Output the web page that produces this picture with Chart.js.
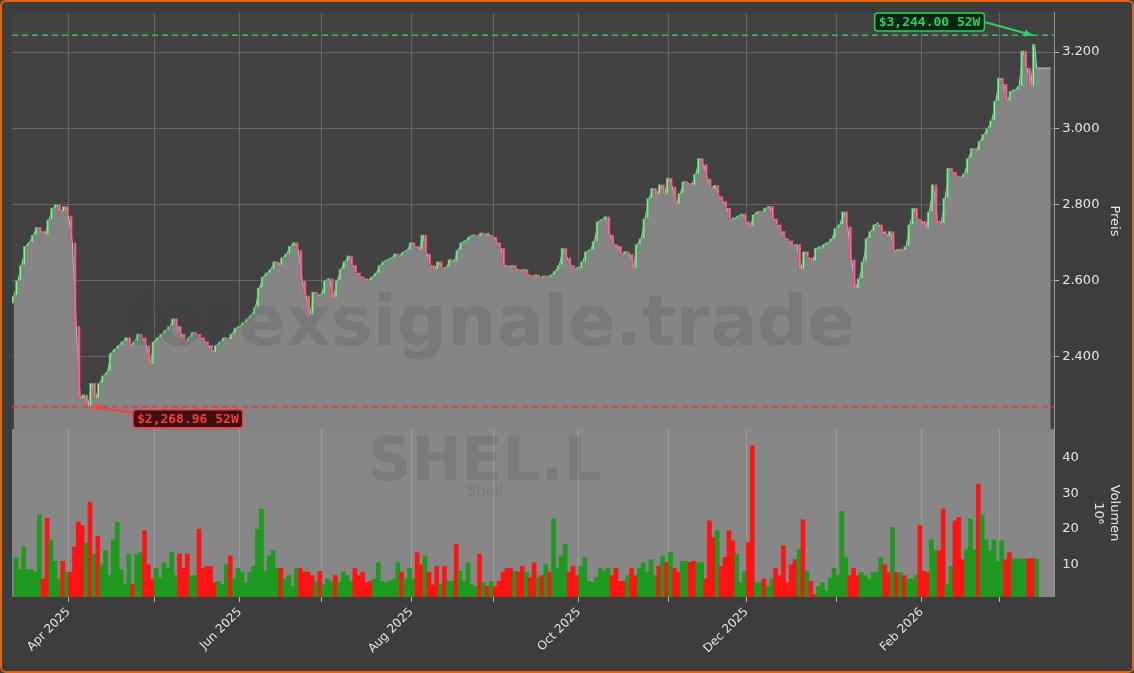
<!DOCTYPE html>
<html>
<head>
<meta charset="utf-8">
<script src="https://cdn.jsdelivr.net/npm/chart.js@4/dist/chart.umd.min.js"></script>
<style>
  html, body { margin: 0; padding: 0; background: #3d3d3d; }
  #wrap { position: relative; width: 1130px; height: 669px; border: 2px solid #e8620a; border-radius: 6px; overflow: hidden; }
  canvas { display: block; }
</style>
</head>
<body>
<div id="wrap"><canvas id="chart" width="1130" height="669"></canvas></div>
<script>
// Closing prices (GBp), one list per month.
const closeMar25 = [2560,2600,2640,2690,2700,2720,2740,2730,2720,2760,2790,2800,2780,2795];
const closeApr25 = [2770,2700,2480,2290,2300,2270,2330,2290,2330,2350,2360,2410,2420,2430,2440,2450,2430,2440,2460,2450,2430,2380];
const closeMay25 = [2440,2450,2460,2470,2480,2500,2480,2460,2440,2450,2465,2460,2450,2440,2430,2410,2430,2440,2450,2445,2460,2475];
const closeJun25 = [2480,2490,2500,2510,2530,2580,2610,2620,2630,2650,2640,2660,2670,2690,2700,2680,2600,2560,2510,2570,2560];
const closeJul25 = [2565,2600,2605,2555,2600,2630,2650,2665,2640,2620,2610,2605,2600,2610,2620,2640,2650,2655,2660,2670,2665,2675,2680];
const closeAug25 = [2700,2690,2680,2720,2670,2640,2630,2650,2630,2635,2655,2650,2680,2700,2705,2715,2720,2715,2725,2720,2720];
const closeSep25 = [2715,2700,2685,2640,2635,2640,2630,2625,2630,2615,2610,2615,2605,2612,2608,2615,2625,2640,2685,2660,2640,2630];
const closeOct25 = [2632,2650,2676,2680,2703,2755,2760,2768,2720,2695,2690,2668,2676,2670,2632,2695,2710,2763,2816,2842,2826,2852,2826];
const closeNov25 = [2870,2847,2800,2829,2860,2855,2850,2879,2921,2905,2868,2840,2850,2821,2808,2790,2760,2763,2770,2775];
const closeDec25 = [2755,2742,2773,2781,2778,2790,2795,2763,2747,2729,2710,2705,2690,2695,2630,2676,2660,2650,2685,2685,2695,2700,2710];
const closeJan26 = [2737,2747,2781,2742,2655,2579,2605,2650,2710,2729,2747,2747,2729,2716,2729,2676,2682,2679,2690,2747,2790,2760];
const closeFeb26 = [2757,2737,2781,2852,2757,2750,2816,2895,2885,2875,2870,2880,2921,2947,2940,2966,2984,3000,3020,3071];
const closeMar26 = [3132,3116,3071,3097,3100,3110,3203,3158,3110,3220];
const areaTail = [3158, 3158, 3158, 3158];

// Volume in millions of shares
const volumes = [
  12,8.7,15,8.7,8.7,8,24,6,23,17,11,6,11,8,8,15,22,21,16,27.5,13,18,10,14,7,17,22,8.7,4.5,13,
  4.5,13,13.5,19.5,10,6,9,6.4,10.6,9,13.5,7,13,9,13,7,7,20,9,9.6,9.6,5,5.4,4.5,10,12.5,6,9,8,5,
  8,9.6,20,25.6,8.2,12.5,14,9,9,6,7,4,9,9,8,8,7,5.4,8.2,4.5,6,5.4,7,5,8,7,5.4,9,7,
  8,5,5.4,6,10.6,5.4,5,5.4,6,10.6,8,6,9,6,13.4,10,12.5,8,4.5,9.6,4.5,9.6,5.4,5.4,15.7,8.2,5.4,10.6,4.5,4,
  13,5,4,5.4,4,5.4,8,9,9,8.2,8,9.6,8,6.4,10.6,6.4,7,10,8,22.8,9,12.5,15.7,8,9.6,7,9.6,12,5.4,5,
  6.4,9,8.2,9,7,9,5.4,5.4,7,9,7,9,10.6,8,11.5,7,9.6,12.5,10.6,13.4,9,8,11,11,10.6,11,10.6,
  10.6,6,22.3,17.6,19.5,9.6,12,19.5,16.7,13,5,8.2,16.2,43.4,5,5,6,4,6,9,7,15.3,5,10,11.5,14.3,22.6,8.2,5.4,1.7,
  4,5,2.6,6.4,9,7,25,12,7,9,7,7.8,7,6,7.8,7.8,12,10,7.8,20.4,7.8,7.8,7,6,6,7,21,8.2,7.8,17,
  14,14,25.6,4.5,9.6,22.3,23.3,11.5,14.3,22.8,14.3,32.6,24,17,14,17,11,16.7,11.5,13.4,11.7
];

const high52 = 3244.00;
const low52 = 2268.96;
const startDate = [2025, 2, 12];
const endDate = [2026, 2, 13];
const monthNames = ['Jan','Feb','Mar','Apr','May','Jun','Jul','Aug','Sep','Oct','Nov','Dec'];

const closes = [].concat(closeMar25, closeApr25, closeMay25, closeJun25, closeJul25, closeAug25,
  closeSep25, closeOct25, closeNov25, closeDec25, closeJan26, closeFeb26, closeMar26);

// trading days (weekdays) for the x axis
const tradingDays = [];
for (let d = new Date(Date.UTC(...startDate)); d <= new Date(Date.UTC(...endDate)); d.setUTCDate(d.getUTCDate() + 1)) {
  const wd = d.getUTCDay();
  if (wd !== 0 && wd !== 6) tradingDays.push(new Date(d));
}

const monthTicks = [];
tradingDays.forEach((d, i) => {
  if (i > 0 && d.getUTCMonth() !== tradingDays[i - 1].getUTCMonth()) {
    const m = d.getUTCMonth();
    monthTicks.push({ value: i, label: m % 2 === 1 ? monthNames[m] + ' ' + d.getUTCFullYear() : '' });
  }
});

const n = closes.length;
const opens = closes.map((c, i) => i === 0 ? c - 20 : closes[i - 1]);
const isUp = closes.map((c, i) => c >= opens[i]);

const candleData = closes.map((c, i) => ({ x: i, y: [opens[i], c] }));
const areaData = closes.map((c, i) => ({ x: i, y: c }))
  .concat(areaTail.map((v, k) => ({ x: n - 0.5 + k * 1.2, y: v })));
const volData = closes.map((c, i) => ({ x: i, y: volumes[i] !== undefined ? volumes[i] : volumes[volumes.length - 1] }));

const lowIdx = closes.indexOf(Math.min(...closes));
const highIdx = n - 1;

// Backgrounds, watermarks, 52W lines and labels
const decor = {
  id: 'decor',
  beforeDraw(chart) {
    const { ctx, chartArea: a, scales } = chart;
    ctx.save();
    ctx.fillStyle = '#3d3d3d';
    ctx.fillRect(0, 0, chart.width, chart.height);
    const yv = scales.yVol;
    ctx.fillStyle = '#424242';
    ctx.fillRect(a.left, a.top, a.right - a.left, scales.y.bottom - a.top);
    ctx.fillStyle = '#878787';
    ctx.fillRect(a.left, yv.top, a.right - a.left, yv.bottom - yv.top);
    ctx.restore();
  },
  afterDatasetsDraw(chart) {
    const { ctx, chartArea: a, scales } = chart;
    const x = scales.x, y = scales.y;
    ctx.save();
    ctx.textAlign = 'center';
    ctx.textBaseline = 'middle';
    ctx.fillStyle = 'rgba(60,60,60,0.16)';
    ctx.font = 'bold 70px "DejaVu Sans"';
    ctx.fillText('forexsignale.trade', 488, 325);
    ctx.font = 'bold 60px "DejaVu Sans"';
    ctx.fillText('SHEL.L', 483, 462);
    ctx.font = '15px "DejaVu Sans"';
    ctx.fillText('Shell', 483, 490);

    const drawLine = (val, color) => {
      const py = y.getPixelForValue(val);
      ctx.strokeStyle = color;
      ctx.lineWidth = 1.5;
      ctx.setLineDash([6, 4]);
      ctx.beginPath();
      ctx.moveTo(a.left, py);
      ctx.lineTo(a.right, py);
      ctx.stroke();
      ctx.setLineDash([]);
      return py;
    };
    const label = (text, bx, by, fg, bg) => {
      ctx.font = 'bold 13px "DejaVu Sans Mono"';
      const w = ctx.measureText(text).width + 8;
      ctx.fillStyle = bg;
      ctx.strokeStyle = fg;
      ctx.lineWidth = 1.5;
      ctx.beginPath();
      ctx.roundRect(bx, by - 9, w, 18, 3);
      ctx.fill();
      ctx.stroke();
      ctx.fillStyle = fg;
      ctx.textAlign = 'left';
      ctx.fillText(text, bx + 4, by + 1);
      return w;
    };
    const arrow = (x1, y1, x2, y2, color) => {
      ctx.strokeStyle = color;
      ctx.fillStyle = color;
      ctx.lineWidth = 2;
      ctx.beginPath();
      ctx.moveTo(x1, y1);
      ctx.lineTo(x2, y2);
      ctx.stroke();
      const ang = Math.atan2(y2 - y1, x2 - x1);
      ctx.beginPath();
      ctx.moveTo(x2, y2);
      ctx.lineTo(x2 - 9 * Math.cos(ang - 0.4), y2 - 9 * Math.sin(ang - 0.4));
      ctx.lineTo(x2 - 9 * Math.cos(ang + 0.4), y2 - 9 * Math.sin(ang + 0.4));
      ctx.closePath();
      ctx.fill();
    };

    const hy = drawLine(high52, '#2fbf5a');
    const hx = x.getPixelForValue(highIdx);
    const hw = label('$3,244.00 52W', hx - 160, 20, '#2fcf5f', '#0b2614');
    arrow(hx - 160 + hw, 20, hx - 2, hy, '#2fcf5f');

    const ly = drawLine(low52, '#e03c3c');
    const lx = x.getPixelForValue(lowIdx);
    label('$2,268.96 52W', lx + 45, ly + 12, '#ff3b3b', '#3a1010');
    arrow(lx + 45, ly + 6, lx + 3, ly, '#ff3b3b');
    ctx.restore();
  }
};

new Chart(document.getElementById('chart'), {
  data: {
    datasets: [
      {
        type: 'line', data: areaData, yAxisID: 'y',
        borderColor: '#c8c8c8', borderWidth: 1, backgroundColor: '#858585',
        fill: 'start', pointRadius: 0, tension: 0, order: 3
      },
      {
        type: 'bar', data: candleData, yAxisID: 'y',
        backgroundColor: isUp.map(u => u ? '#a9e6b2' : '#f27a98'),
        borderColor: isUp.map(u => u ? '#34b94f' : '#e2446d'),
        borderWidth: 1, borderSkipped: false, barThickness: 2.5, minBarLength: 2, order: 1
      },
      {
        type: 'bar', data: volData, yAxisID: 'yVol',
        backgroundColor: isUp.map(u => u ? '#1e9a1e' : '#ff1414'),
        barThickness: 4, order: 2
      }
    ]
  },
  options: {
    responsive: false,
    animation: false,
    layout: { padding: { left: 10, top: 10, right: 6, bottom: 12 } },
    plugins: { legend: { display: false }, tooltip: { enabled: false } },
    scales: {
      x: {
        type: 'linear', min: -0.5, max: n + 4, offset: false,
        afterBuildTicks: s => { s.ticks = monthTicks.map(t => ({ value: t.value })); },
        ticks: {
          color: '#e6e6e6', font: { size: 12, family: 'DejaVu Sans' },
          maxRotation: 45, minRotation: 45, autoSkip: false,
          callback: v => { const t = monthTicks.find(m => m.value === v); return t ? t.label : ''; }
        },
        grid: { color: 'rgba(255,255,255,0.18)', tickColor: '#bbb', tickLength: 5, offset: false },
        border: { color: '#888' }
      },
      y: {
        position: 'right', stack: 'main', stackWeight: 2.48, min: 2210, max: 3303,
        afterBuildTicks: s => { s.ticks = [2400, 2600, 2800, 3000, 3200].map(v => ({ value: v })); },
        ticks: { color: '#e6e6e6', font: { size: 13, family: 'DejaVu Sans' },
          callback: v => v.toLocaleString('de-DE', { minimumFractionDigits: 0 }) },
        grid: { color: 'rgba(255,255,255,0.18)', tickColor: '#bbb', tickLength: 5 },
        border: { color: '#999' },
        title: { display: true, text: 'Preis', color: '#e6e6e6', font: { size: 13, family: 'DejaVu Sans' } }
      },
      yVol: {
        position: 'right', stack: 'main', stackWeight: 1, min: 1, max: 48,
        afterBuildTicks: s => { s.ticks = [10, 20, 30, 40].map(v => ({ value: v })); },
        ticks: { color: '#e6e6e6', font: { size: 13, family: 'DejaVu Sans' } },
        grid: { display: false, tickColor: '#bbb', tickLength: 5 },
        border: { color: '#999' },
        title: { display: true, text: ['Volumen', '10⁶'], color: '#e6e6e6', font: { size: 13, family: 'DejaVu Sans' } }
      }
    }
  },
  plugins: [decor]
});
</script>
</body>
</html>
